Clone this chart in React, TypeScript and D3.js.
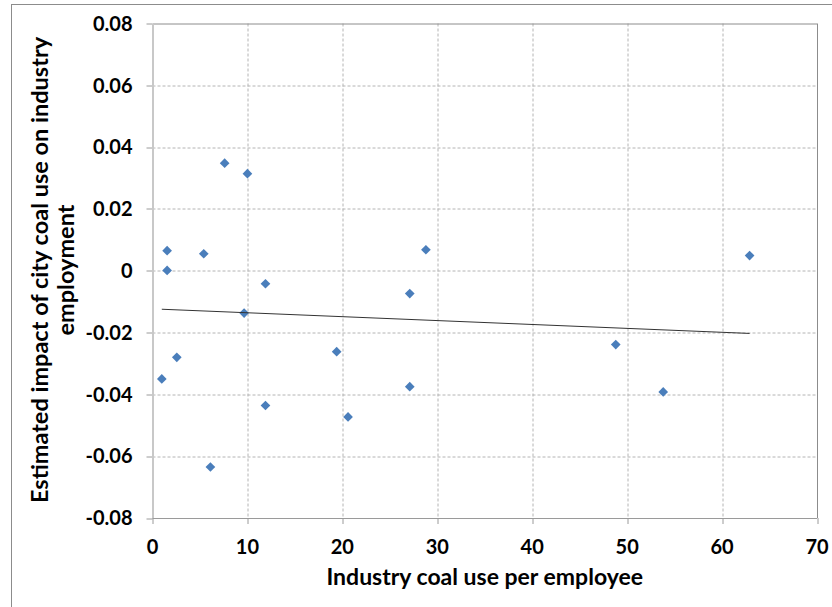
import * as d3 from "d3";

const coalUse = [7.6, 10.0, 1.54, 5.4, 28.8, 1.54, 11.9, 27.1, 9.65, 2.56, 19.4, 0.98, 27.1, 11.9, 20.6, 6.1, 62.9, 48.8, 53.8];
const impact = [0.0348, 0.0314, 0.0065, 0.0055, 0.0068, 0.0001, -0.0042, -0.0074, -0.0137, -0.028, -0.0262, -0.035, -0.0375, -0.0436, -0.0473, -0.0635, 0.0049, -0.0239, -0.0392];

const xTicks = [0, 10, 20, 30, 40, 50, 60, 70];
const yTicks = [0.08, 0.06, 0.04, 0.02, 0, -0.02, -0.04, -0.06, -0.08];

const width = 832;
const height = 607;
const margin = { top: 23.5, right: 15, bottom: 89, left: 152.5 };
const font = "Lato, 'Open Sans', sans-serif";

export default function App() {
  const boundsWidth = width - margin.left - margin.right;
  const boundsHeight = height - margin.top - margin.bottom;

  const xScale = d3.scaleLinear().domain([0, 70]).range([0, boundsWidth]);
  const yScale = d3.scaleLinear().domain([-0.08, 0.08]).range([boundsHeight, 0]);

  const points = coalUse.map((x, i) => ({ x, y: impact[i] }));

  // least squares trend line over the data range
  const mx = d3.mean(coalUse) as number;
  const my = d3.mean(impact) as number;
  const slope =
    d3.sum(points, (p) => (p.x - mx) * (p.y - my)) /
    d3.sum(points, (p) => (p.x - mx) ** 2);
  const intercept = my - slope * mx;
  const [xMin, xMax] = d3.extent(coalUse) as [number, number];

  const diamond = d3.symbol().type(d3.symbolDiamond2).size(60)();

  return (
    <svg
      width={width}
      height={height}
      style={{ position: "absolute", left: 0, top: 0, background: "#fff" }}
    >
      <rect x={11.5} y={4.5} width={width} height={height} fill="none" stroke="#8c8c8c" />
      <g transform={`translate(${margin.left}, ${margin.top})`}>
        {yTicks.map((t) => (
          <g key={`y${t}`}>
            {t !== -0.08 && t !== 0.08 && (
              <line
                x1={0}
                x2={boundsWidth}
                y1={Math.round(yScale(t)) + 0.5}
                y2={Math.round(yScale(t)) + 0.5}
                stroke="#b4b4b4"
                strokeDasharray="3,2"
              />
            )}
            <line x1={-6} x2={0} y1={Math.round(yScale(t)) + 0.5} y2={Math.round(yScale(t)) + 0.5} stroke="#9a9a9a" />
            <text
              x={-20}
              y={yScale(t)}
              dy="0.36em"
              textAnchor="end"
              fontFamily={font}
              fontWeight="bold"
              fontSize={20}
              fill="#000"
            >
              {t === 0 ? "0" : t.toFixed(2)}
            </text>
          </g>
        ))}
        {xTicks.map((t) => (
          <g key={`x${t}`}>
            {t !== 0 && t !== 70 && (
              <line
                x1={Math.round(xScale(t)) + 0.5}
                x2={Math.round(xScale(t)) + 0.5}
                y1={0}
                y2={boundsHeight}
                stroke="#b4b4b4"
                strokeDasharray="3,2"
              />
            )}
            <line
              x1={Math.round(xScale(t)) + 0.5}
              x2={Math.round(xScale(t)) + 0.5}
              y1={boundsHeight}
              y2={boundsHeight + 6}
              stroke="#9a9a9a"
            />
            <text
              x={xScale(t)}
              y={boundsHeight + 36}
              textAnchor="middle"
              fontFamily={font}
              fontWeight="bold"
              fontSize={20}
              fill="#000"
            >
              {t}
            </text>
          </g>
        ))}
        <line x1={0.5} x2={boundsWidth} y1={0.5} y2={0.5} stroke="#8c8c8c" />
        <line x1={boundsWidth + 0.5} x2={boundsWidth + 0.5} y1={0} y2={boundsHeight} stroke="#8c8c8c" />
        <line x1={0} x2={boundsWidth} y1={boundsHeight + 0.5} y2={boundsHeight + 0.5} stroke="#9a9a9a" />
        <line x1={0.5} x2={0.5} y1={0} y2={boundsHeight} stroke="#c8c8c8" strokeWidth={2} />

        {points.map((p, i) => (
          <path
            key={i}
            d={diamond as string}
            transform={`translate(${xScale(p.x)}, ${yScale(p.y)})`}
            fill="#4a7ebb"
          />
        ))}
        <line
          x1={xScale(xMin)}
          y1={yScale(intercept + slope * xMin)}
          x2={xScale(xMax)}
          y2={yScale(intercept + slope * xMax)}
          stroke="#333"
          strokeWidth={1}
        />

        <text
          x={boundsWidth / 2}
          y={boundsHeight + 67}
          textAnchor="middle"
          fontFamily={font}
          fontWeight="bold"
          fontSize={23}
          fill="#000"
        >
          Industry coal use per employee
        </text>
      </g>
      <text
        transform={`translate(48, 270) rotate(-90)`}
        textAnchor="middle"
        fontFamily={font}
        fontWeight="bold"
        fontSize={23.5}
        fill="#000"
      >
        <tspan x={0} dy={0}>Estimated impact of city coal use on industry</tspan>
        <tspan x={0} dy={26}>employment</tspan>
      </text>
    </svg>
  );
}
